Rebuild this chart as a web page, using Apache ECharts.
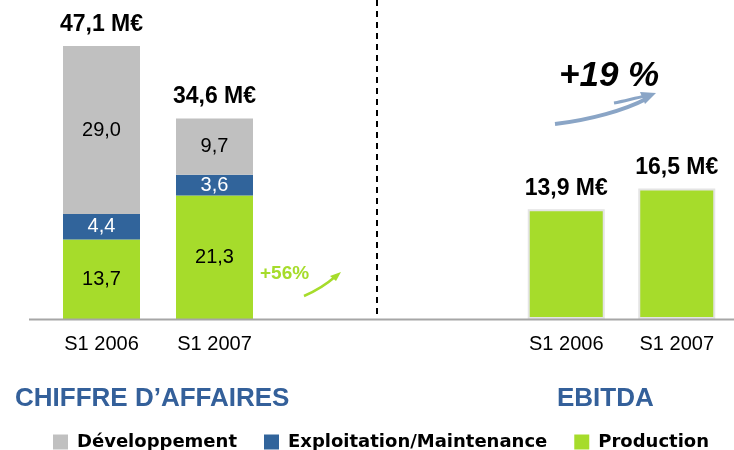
<!DOCTYPE html>
<html>
<head>
<meta charset="utf-8">
<script src="https://cdn.jsdelivr.net/npm/echarts@6/dist/echarts.min.js"></script>
<style>html,body{margin:0;padding:0;background:#fff}#c{width:734px;height:450px}</style>
</head>
<body>
<div id="c"></div>
<script>
const categories = ['S1 2006', 'S1 2007'];
const production = [13.7, 21.3];
const exploitation = [4.4, 3.6];
const developpement = [29.0, 9.7];
const totals = [47.1, 34.6];
const ebitda = [13.9, 16.5];
const growthCA = '+56%';
const growthEbitda = '+19 %';

const GREEN = '#a6dc2b', BLUE = '#31649b', GRAY = '#c0c0c0', TITLE = '#34609a';
const FONT = 'Liberation Sans';
const fmt = v => v.toFixed(1).replace('.', ',');

const chart = echarts.init(document.getElementById('c'));
const segLabel = color => ({
  show: true, position: 'inside', color: color, fontFamily: FONT, fontSize: 20,
  formatter: p => fmt(p.value)
});
chart.setOption({
  animation: false,
  textStyle: { fontFamily: FONT },
  title: [
    { text: 'CHIFFRE D\u2019AFFAIRES', left: 10, top: 381,
      textStyle: { color: TITLE, fontSize: 26, fontWeight: 'bold', fontFamily: FONT } },
    { text: 'EBITDA', left: 552, top: 381,
      textStyle: { color: TITLE, fontSize: 26, fontWeight: 'bold', fontFamily: FONT } }
  ],
  legend: {
    data: ['Développement', 'Exploitation/Maintenance', 'Production'],
    left: 48, top: 428, itemWidth: 15, itemHeight: 15, itemGap: 27, icon: 'rect',
    textStyle: { fontFamily: 'DejaVu Sans', fontWeight: 'bold', fontSize: 18, color: '#000', padding: [0, 0, 0, 4] }
  },
  grid: [
    { left: 45, width: 226, top: 10, bottom: 131 },
    { left: 511, width: 221, top: 10, bottom: 131 }
  ],
  xAxis: [
    { type: 'category', gridIndex: 0, data: categories, axisLine: { show: false }, axisTick: { show: false },
      axisLabel: { color: '#000', fontSize: 20, margin: 15, fontFamily: FONT } },
    { type: 'category', gridIndex: 1, data: categories, axisLine: { show: false }, axisTick: { show: false },
      axisLabel: { color: '#000', fontSize: 20, margin: 15, fontFamily: FONT } }
  ],
  yAxis: [
    { type: 'value', gridIndex: 0, min: 0, max: 53.3, show: false, splitLine: { show: false } },
    { type: 'value', gridIndex: 1, min: 0, max: 39.1, show: false, splitLine: { show: false } }
  ],
  series: [
    { name: 'Production', type: 'bar', stack: 'ca', xAxisIndex: 0, yAxisIndex: 0, barWidth: 77,
      data: production, itemStyle: { color: GREEN }, label: segLabel('#000') },
    { name: 'Exploitation/Maintenance', type: 'bar', stack: 'ca', xAxisIndex: 0, yAxisIndex: 0, barWidth: 77,
      data: exploitation, itemStyle: { color: BLUE }, label: segLabel('#fff') },
    { name: 'Développement', type: 'bar', stack: 'ca', xAxisIndex: 0, yAxisIndex: 0, barWidth: 77,
      data: developpement, itemStyle: { color: GRAY }, label: segLabel('#000') },
    { name: 'Total', type: 'scatter', xAxisIndex: 0, yAxisIndex: 0, symbolSize: 0, data: totals,
      itemStyle: { opacity: 1 },
      label: { show: true, position: 'top', distance: 10, color: '#000', fontSize: 23, fontWeight: 'bold',
        fontFamily: FONT, formatter: p => fmt(p.value) + ' M€' } },
    { name: 'EBITDA', type: 'bar', xAxisIndex: 1, yAxisIndex: 1, barWidth: 77, data: ebitda,
      itemStyle: { color: GREEN, borderColor: '#e4e4e4', borderWidth: 2 },
      label: { show: true, position: 'top', distance: 9, color: '#000', fontSize: 23, fontWeight: 'bold',
        fontFamily: FONT, formatter: p => fmt(p.value) + ' M€' } }
  ],
  graphic: [
    { type: 'line', shape: { x1: 29, y1: 319.5, x2: 734, y2: 319.5 }, style: { stroke: '#a6a6a6', lineWidth: 2 }, z: 10 },
    { type: 'line', shape: { x1: 377, y1: 0, x2: 377, y2: 318 }, style: { stroke: '#000', lineWidth: 2, lineDash: [6, 5] } },
    { type: 'text', left: 260, top: 264, style: { text: growthCA, fill: GREEN, font: 'bold 19px "Liberation Sans"' } },
    { type: 'bezierCurve', shape: { x1: 304, y1: 296, cpx1: 318, cpy1: 290, cpx2: 328, cpy2: 283, x2: 336, y2: 276 },
      style: { stroke: GREEN, lineWidth: 2.5, fill: null } },
    { type: 'polygon', shape: { points: [[341, 272], [330, 276], [336, 281]] }, style: { fill: GREEN } },
    { type: 'text', left: 559, top: 59, style: { text: growthEbitda, fill: '#000', font: 'italic bold 35px "Liberation Sans"' } },
    { type: 'bezierCurve', shape: { x1: 555, y1: 124, cpx1: 590, cpy1: 120, cpx2: 625, cpy2: 110, x2: 646, y2: 99 },
      style: { stroke: '#8aa5c6', lineWidth: 4, fill: null } },
    { type: 'bezierCurve', shape: { x1: 614, y1: 103, cpx1: 625, cpy1: 101, cpx2: 635, cpy2: 98, x2: 646, y2: 96 },
      style: { stroke: '#8aa5c6', lineWidth: 3, fill: null } },
    { type: 'polygon', shape: { points: [[656, 93], [640, 92], [645, 104]] }, style: { fill: '#8aa5c6' } }
  ]
});
</script>
</body>
</html>
